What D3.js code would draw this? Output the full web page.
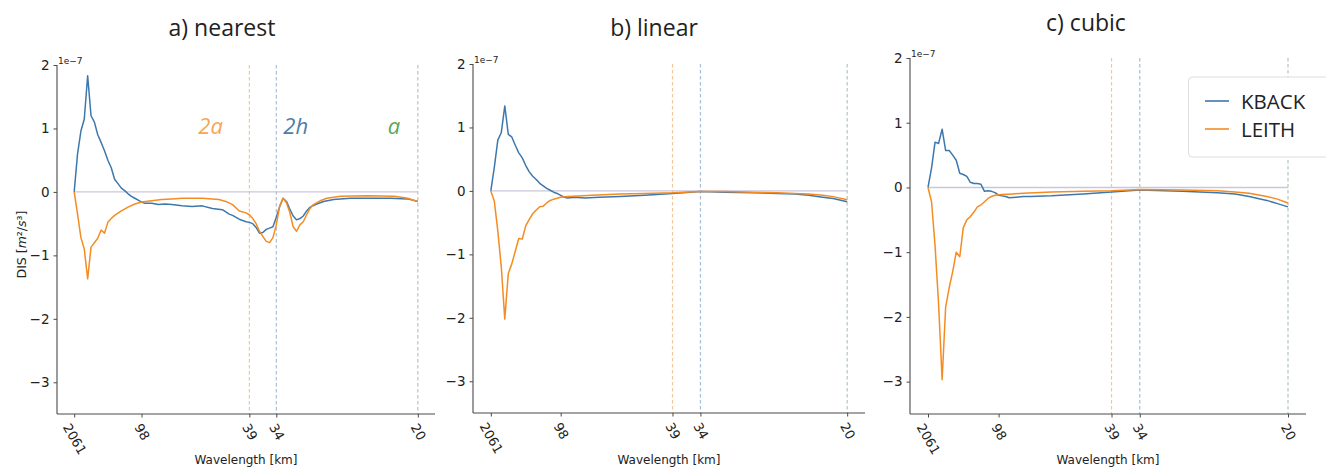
<!DOCTYPE html>
<html>
<head>
<meta charset="utf-8">
<script src="https://cdn.jsdelivr.net/npm/d3@7"></script>
<style>
  html, body { margin: 0; padding: 0; background: #fff; }
  svg { display: block; }
</style>
</head>
<body>
<script>
// Dissipation spectra (units of 1e-7 m^2/s^3) vs. wavenumber index n,
// where the wavelength is domainLength / n km.
const domainLength = 2061;

const tickIndex = [1, 21, 53, 61, 103];
const yTicks = [2, 1, 0, -1, -2, -3];
const yDomain = [-3.5, 2];

// reference wavelengths: 2a (39 km), 2h (34 km), a (20 km)
const markerIndex = [53, 61, 103];
const markerNames = ["2a", "2h", "a"];

const seriesNames = ["KBACK", "LEITH"];

const kbackNearest = [[1,0],[2,0.6],[3,0.96],[4,1.15],[5,1.83],[6,1.2],[7,1.1],[8,0.9],[9,0.78],[10,0.65],[11,0.5],[12,0.38],[13,0.2],[14,0.13],[15,0.06],[16,0.02],[17,-0.03],[18,-0.07],[19,-0.1],[20,-0.13],[21,-0.16],[22,-0.18],[24,-0.18],[26,-0.2],[28,-0.19],[30,-0.2],[33,-0.22],[36,-0.23],[39,-0.22],[42,-0.26],[45,-0.28],[47,-0.35],[48,-0.37],[50,-0.43],[52,-0.47],[53,-0.48],[54,-0.5],[55,-0.56],[56,-0.65],[57,-0.64],[58,-0.59],[59,-0.57],[60,-0.55],[61,-0.4],[62,-0.23],[63,-0.1],[64,-0.15],[65,-0.27],[66,-0.38],[67,-0.44],[68,-0.42],[69,-0.38],[70,-0.3],[71,-0.24],[73,-0.19],[75,-0.15],[78,-0.12],[83,-0.1],[90,-0.1],[95,-0.1],[100,-0.11],[103,-0.15]];
const leithNearest = [[1,0],[2,-0.35],[3,-0.72],[4,-0.9],[5,-1.37],[6,-0.87],[7,-0.8],[8,-0.73],[9,-0.6],[10,-0.65],[11,-0.48],[12,-0.42],[13,-0.37],[15,-0.3],[17,-0.24],[19,-0.19],[21,-0.16],[24,-0.14],[27,-0.12],[30,-0.11],[33,-0.1],[36,-0.1],[39,-0.1],[42,-0.11],[44,-0.12],[46,-0.15],[48,-0.2],[50,-0.3],[52,-0.33],[53,-0.36],[54,-0.42],[55,-0.5],[56,-0.62],[57,-0.7],[58,-0.78],[59,-0.8],[60,-0.72],[61,-0.52],[62,-0.22],[63,-0.1],[64,-0.17],[65,-0.32],[66,-0.55],[67,-0.62],[68,-0.52],[69,-0.47],[70,-0.36],[71,-0.26],[72,-0.2],[74,-0.14],[76,-0.1],[80,-0.07],[88,-0.06],[96,-0.07],[100,-0.1],[103,-0.15]];

const kbackLinear = [[1,0],[2,0.37],[3,0.8],[4,0.92],[5,1.34],[6,0.89],[7,0.85],[8,0.72],[9,0.6],[10,0.52],[11,0.4],[12,0.3],[13,0.23],[14,0.18],[15,0.12],[16,0.08],[17,0.04],[18,0.01],[19,-0.02],[20,-0.04],[21,-0.07],[22,-0.1],[23,-0.11],[25,-0.1],[28,-0.11],[32,-0.1],[38,-0.09],[45,-0.07],[53,-0.04],[61,-0.01],[68,-0.02],[76,-0.03],[83,-0.04],[88,-0.05],[92,-0.07],[96,-0.1],[99,-0.12],[103,-0.17]];
const leithLinear = [[1,0],[2,-0.16],[3,-0.63],[4,-1.2],[5,-2.02],[6,-1.3],[7,-1.15],[8,-0.95],[9,-0.75],[10,-0.76],[11,-0.55],[12,-0.45],[13,-0.36],[14,-0.3],[15,-0.25],[16,-0.24],[17,-0.19],[18,-0.15],[19,-0.13],[21,-0.1],[23,-0.09],[26,-0.08],[30,-0.07],[38,-0.05],[45,-0.04],[53,-0.03],[61,-0.01],[68,-0.01],[76,-0.02],[83,-0.03],[88,-0.04],[92,-0.05],[96,-0.07],[99,-0.09],[103,-0.14]];

const kbackCubic = [[1,0],[2,0.3],[3,0.7],[4,0.68],[5,0.9],[6,0.57],[7,0.57],[8,0.5],[9,0.42],[10,0.22],[11,0.2],[12,0.17],[13,0.08],[14,0.06],[15,0.06],[16,0.05],[17,-0.06],[18,-0.05],[19,-0.06],[20,-0.08],[21,-0.12],[22,-0.13],[23,-0.14],[24,-0.16],[26,-0.15],[28,-0.14],[30,-0.14],[36,-0.13],[45,-0.1],[53,-0.07],[61,-0.04],[68,-0.05],[73,-0.06],[78,-0.07],[83,-0.08],[88,-0.1],[92,-0.14],[97,-0.2],[100,-0.25],[103,-0.3]];
const leithCubic = [[1,0],[2,-0.22],[3,-0.9],[4,-1.8],[5,-2.97],[6,-1.85],[7,-1.55],[8,-1.3],[9,-1.0],[10,-1.07],[11,-0.62],[12,-0.5],[13,-0.45],[14,-0.38],[15,-0.3],[16,-0.27],[17,-0.22],[18,-0.17],[19,-0.14],[20,-0.12],[22,-0.11],[25,-0.1],[28,-0.09],[36,-0.07],[45,-0.06],[53,-0.05],[61,-0.03],[73,-0.04],[83,-0.05],[88,-0.07],[92,-0.09],[97,-0.14],[100,-0.18],[103,-0.24]];

const W = 1326, H = 470;
const colors = { KBACK: "#3d78ad", LEITH: "#f58c22" };
const markerLineColors = ["#f3c69a", "#a6bfd8", "#b3c7b8"];
const markerTextColors = ["#f6a658", "#4d7eab", "#5aa85a"];
const zeroColor = "#cbc5dd";
const axisColor = "#4a4a4a";
const textColor = "#222";

const panels = [
  { title: "a) nearest", data: [kbackNearest, leithNearest], x0: 57, x1: 435, y0: 65, y1: 414, titleX: 222, titleY: 36, yLabel: true, markerLabels: true },
  { title: "b) linear", data: [kbackLinear, leithLinear], x0: 473, x1: 865, y0: 64, y1: 413, titleX: 654, titleY: 36, yLabel: false, markerLabels: false },
  { title: "c) cubic", data: [kbackCubic, leithCubic], x0: 910, x1: 1306, y0: 58, y1: 414, titleX: 1086, titleY: 31, yLabel: false, markerLabels: false }
];

const svg = d3.select("body").append("svg")
  .attr("width", W).attr("height", H)
  .style("font-family", "'DejaVu Sans', sans-serif");
svg.append("rect").attr("width", W).attr("height", H).attr("fill", "#fff");

const nMin = d3.min(tickIndex), nMax = d3.max(tickIndex);
const pad = (nMax - nMin) * 0.05;

panels.forEach(p => {
  const x = d3.scaleLinear().domain([nMin - pad, nMax + pad]).range([p.x0, p.x1]);
  const y = d3.scaleLinear().domain(yDomain).range([p.y1, p.y0]);
  const g = svg.append("g");

  // reference wavelengths
  markerIndex.forEach((n, i) => {
    g.append("line")
      .attr("x1", x(n)).attr("x2", x(n))
      .attr("y1", p.y0).attr("y2", p.y1)
      .attr("stroke", markerLineColors[i]).attr("stroke-width", 1.2)
      .attr("stroke-dasharray", "3.5,2.5");
  });

  // zero line
  g.append("line")
    .attr("x1", x(nMin)).attr("x2", x(nMax))
    .attr("y1", y(0)).attr("y2", y(0))
    .attr("stroke", zeroColor).attr("stroke-width", 1.4);

  // spectra
  const line = d3.line().x(d => x(d[0])).y(d => y(d[1]));
  p.data.forEach((series, i) => {
    g.append("path")
      .datum(series)
      .attr("d", line)
      .attr("fill", "none")
      .attr("stroke", colors[seriesNames[i]])
      .attr("stroke-width", 1.5)
      .attr("stroke-linejoin", "round");
  });

  // left axis
  const yAxis = d3.axisLeft(y).tickValues(yTicks).tickSize(3.5).tickPadding(4)
    .tickFormat(d => d < 0 ? "\u2212" + Math.abs(d) : String(d));
  const ya = g.append("g").attr("transform", `translate(${p.x0},0)`).call(yAxis);
  ya.select(".domain").attr("stroke", axisColor).attr("stroke-width", 1.1)
    .attr("d", `M-0,${p.y0}V${p.y1}`);
  ya.selectAll(".tick line").attr("stroke", axisColor);
  ya.selectAll(".tick text").attr("fill", textColor).style("font-size", "13.5px")
    .style("font-family", "'DejaVu Sans', sans-serif");

  // bottom axis
  const xAxis = d3.axisBottom(x).tickValues(tickIndex).tickSize(3.5)
    .tickFormat(n => String(Math.round(domainLength / n)));
  const xa = g.append("g").attr("transform", `translate(0,${p.y1})`).call(xAxis);
  xa.select(".domain").attr("stroke", axisColor).attr("stroke-width", 1.1)
    .attr("d", `M${p.x0},0H${p.x1}`);
  xa.selectAll(".tick line").attr("stroke", axisColor);
  xa.selectAll(".tick text")
    .attr("fill", textColor).style("font-size", "13px")
    .style("font-family", "'DejaVu Sans', sans-serif")
    .attr("text-anchor", "middle").attr("dy", null).attr("y", null)
    .attr("dominant-baseline", "central")
    .each(function () {
      const len = this.getComputedTextLength();
      const a = Math.PI / 3;
      const h = len * Math.sin(a) + 13 * Math.cos(a);
      d3.select(this).attr("transform", `translate(0,${7.5 + h / 2}) rotate(60)`);
    });

  // offset text
  g.append("text")
    .attr("x", p.x0 + 1).attr("y", p.y0 - 1)
    .attr("fill", textColor).style("font-size", "9px")
    .text("1e\u22127");

  // title
  g.append("text")
    .attr("x", p.titleX).attr("y", p.titleY)
    .attr("text-anchor", "middle").attr("fill", textColor)
    .style("font-family", "'Open Sans', sans-serif").style("font-size", "23px")
    .text(p.title);

  // x label
  g.append("text")
    .attr("x", (p.x0 + p.x1) / 2).attr("y", 464)
    .attr("text-anchor", "middle").attr("fill", textColor)
    .style("font-size", "12px")
    .text("Wavelength [km]");

  if (p.yLabel) {
    const t = g.append("text")
      .attr("transform", `translate(26,${(p.y0 + p.y1) / 2 + 5}) rotate(-90)`)
      .attr("text-anchor", "middle").attr("fill", textColor)
      .style("font-size", "12.5px");
    t.append("tspan").text("DIS [");
    t.append("tspan").attr("font-style", "italic").text("m");
    t.append("tspan").text("\u00b2/");
    t.append("tspan").attr("font-style", "italic").text("s");
    t.append("tspan").text("\u00b3]");
  }

  if (p.markerLabels) {
    const offsets = [-51, 7, -30];
    markerIndex.forEach((n, i) => {
      g.append("text")
        .attr("x", x(n) + offsets[i]).attr("y", 134)
        .attr("fill", markerTextColors[i])
        .style("font-family", "'Open Sans', sans-serif")
        .style("font-style", "italic")
        .style("font-size", "22px")
        .text(markerNames[i]);
    });
  }
});

// legend
const lg = svg.append("g");
lg.append("rect")
  .attr("x", 1188.5).attr("y", 77).attr("width", 160).attr("height", 80)
  .attr("rx", 4).attr("fill", "#fff").attr("stroke", "#dedede").attr("stroke-width", 1);
seriesNames.forEach((name, i) => {
  const yy = 101 + i * 28;
  lg.append("line")
    .attr("x1", 1205).attr("x2", 1229).attr("y1", yy).attr("y2", yy)
    .attr("stroke", colors[name]).attr("stroke-width", 1.6);
  lg.append("text")
    .attr("x", 1241).attr("y", yy + 7.5)
    .attr("fill", textColor)
    .style("font-family", "'Open Sans', sans-serif").style("font-size", "20.5px")
    .text(name);
});
</script>
</body>
</html>
